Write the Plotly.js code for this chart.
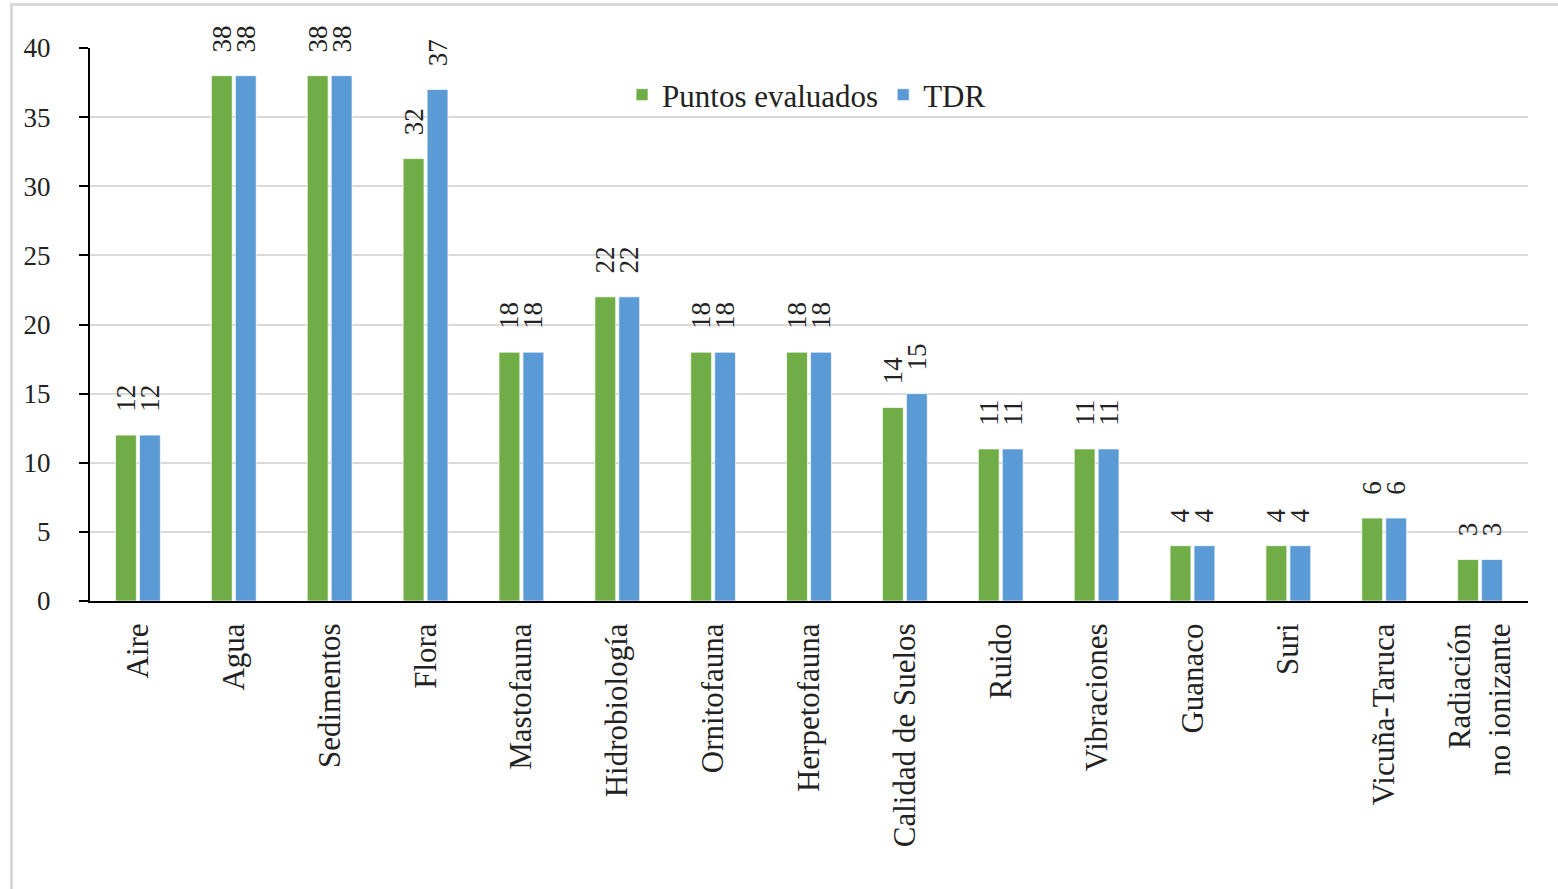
<!DOCTYPE html>
<html>
<head>
<meta charset="utf-8">
<script src="https://cdn.plot.ly/plotly-3.0.1.min.js"></script>
<style>
  html, body { margin: 0; padding: 0; background: #fff; }
  #wrap { position: relative; width: 1558px; height: 889px; }
  #chart { width: 1558px; height: 889px; }
  #frame { position: absolute; left: 10px; top: 3px; width: 1560px; height: 900px;
           border-top: 3px solid #d9d9d9; border-left: 3px solid #d9d9d9; pointer-events: none; }
</style>
</head>
<body>
<div id="wrap">
  <div id="chart"></div>
  <div id="frame"></div>
</div>
<script>
const categories = ["Aire", "Agua", "Sedimentos", "Flora", "Mastofauna", "Hidrobiología",
  "Ornitofauna", "Herpetofauna", "Calidad de Suelos", "Ruido", "Vibraciones",
  "Guanaco", "Suri", "Vicuña-Taruca", "Radiación<br>no ionizante"];
const puntosEvaluados = [12, 38, 38, 32, 18, 22, 18, 18, 14, 11, 11, 4, 4, 6, 3];
const tdr = [12, 38, 38, 37, 18, 22, 18, 18, 15, 11, 11, 4, 4, 6, 3];
const yTicks = [0, 5, 10, 15, 20, 25, 30, 35, 40];

const serif = "Liberation Serif";
const labelFont = {family: serif, size: 27, color: "#222"};

function barTrace(name, values, color) {
  return {
    type: "bar",
    name: name,
    x: categories,
    y: values,
    marker: {color: color, line: {color: "rgba(255,255,255,0.7)", width: 1}},
    texttemplate: "\u00a0\u00a0\u00a0%{y}",
    textposition: "outside",
    textangle: -90,
    constraintext: "none",
    cliponaxis: false,
    textfont: labelFont,
    hoverinfo: "x+y+name"
  };
}

const data = [
  barTrace("Puntos evaluados", puntosEvaluados, "#70AD47"),
  barTrace("TDR", tdr, "#5B9BD5")
];

const layout = {
  width: 1558,
  height: 889,
  margin: {l: 90, r: 30, t: 48, b: 288},
  paper_bgcolor: "#fff",
  plot_bgcolor: "#fff",
  font: {family: serif, color: "#222"},
  barmode: "group",
  bargap: 0.5,
  bargroupgap: 0.13,
  showlegend: true,
  legend: {
    orientation: "h",
    x: 0.37, xanchor: "left",
    y: 0.915, yanchor: "middle",
    bgcolor: "rgba(0,0,0,0)",
    font: {family: serif, size: 31, color: "#222"},
    itemwidth: 30,
    tracegroupgap: 0
  },
  xaxis: {
    type: "category",
    tickangle: -90,
    showline: true,
    linecolor: "#000",
    linewidth: 2,
    ticks: "",
    ticklabelstandoff: 8,
    tickfont: {family: serif, size: 31, color: "#222"},
    showgrid: false,
    zeroline: false
  },
  yaxis: {
    range: [0, 40],
    tickvals: yTicks,
    ticktext: yTicks.map(String),
    showline: true,
    linecolor: "#000",
    linewidth: 2,
    ticks: "outside",
    ticklen: 9,
    tickwidth: 2,
    tickcolor: "#000",
    ticklabelstandoff: 23,
    tickfont: {family: serif, size: 27, color: "#222"},
    showgrid: true,
    gridcolor: "#d9d9d9",
    gridwidth: 2,
    zeroline: false
  }
};

Plotly.newPlot("chart", data, layout, {displayModeBar: false, staticPlot: true});
</script>
</body>
</html>
